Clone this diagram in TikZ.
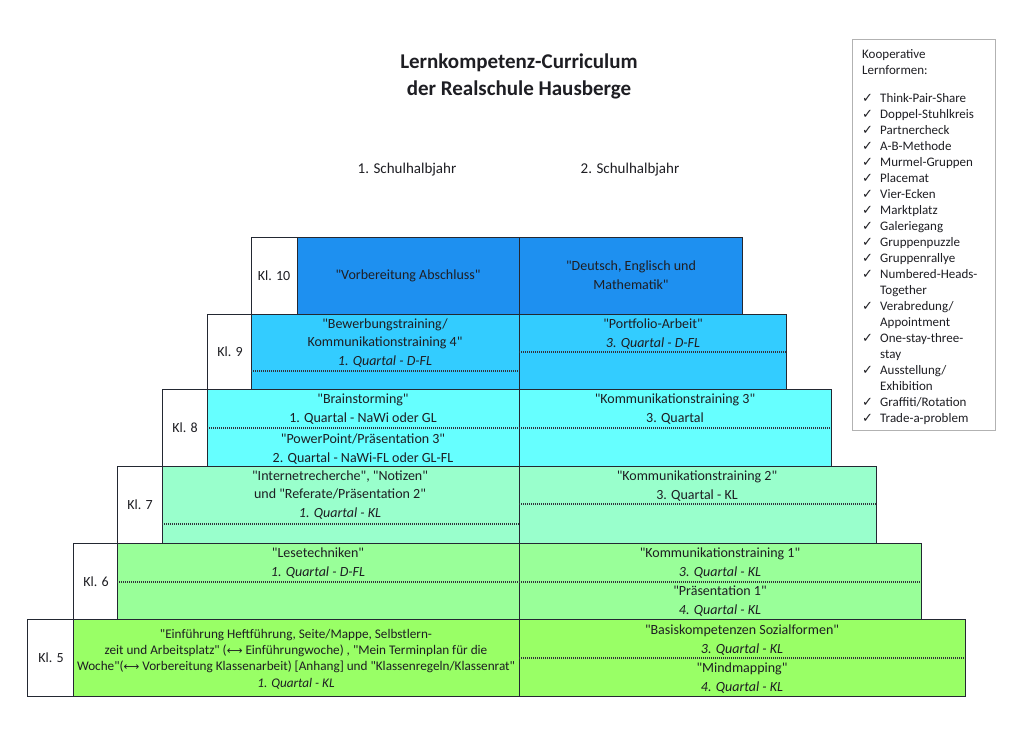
\documentclass[tikz,border=0pt]{standalone}
\usepackage{fontspec}
\setmainfont{Carlito}[Ligatures=TeXOff]
\newfontfamily\symfont{DejaVu Sans}
\newfontfamily\ckfont{DejaVu Sans Bold}
\definecolor{cten}{RGB}{30,144,240}
\definecolor{cnine}{RGB}{51,204,255}
\definecolor{ceight}{RGB}{102,255,255}
\definecolor{cseven}{RGB}{153,255,204}
\definecolor{csix}{RGB}{153,255,153}
\definecolor{cfive}{RGB}{153,255,102}
\definecolor{bordc}{RGB}{35,40,50}
\definecolor{textc}{RGB}{30,30,35}
\definecolor{dotc}{RGB}{50,50,60}
\tikzset{
  cell/.style={draw=bordc, line width=0.9pt, rectangle, inner sep=0pt, outer sep=0pt, anchor=north west},
  labbox/.style={cell, fill=white},
  txt/.style={font=\fontsize{14}{18.5}\selectfont, text=textc, align=center, inner sep=0pt},
  smalltxt/.style={font=\fontsize{13.2}{16.3}\selectfont, text=textc, align=center, inner sep=0pt},
  hdr/.style={font=\fontsize{15}{18}\selectfont, text=textc, inner sep=0pt},
  sepline/.style={draw=dotc, line width=1.1pt, dash pattern=on 1pt off 1pt},
  legtxt/.style={font=\fontsize{13}{16}\selectfont, text=textc, align=left, inner sep=0pt},
}
\newcommand{\ck}{\makebox[18pt][l]{\ckfont\fontsize{13}{16}\selectfont ✓}}
\newcommand{\ckind}{\hspace*{18pt}}
\begin{document}
\begin{tikzpicture}[x=1pt,y=-1pt]
\useasboundingbox (0,0) rectangle (1024,733);
\fill[white] (0,0) rectangle (1024,733);

% title and headers
\node[font=\fontsize{21}{27}\selectfont\bfseries, text=textc, align=center, inner sep=0pt] (title) at (519,76) {Lernkompetenz-Curriculum\\der Realschule Hausberge};
\node[hdr] (h1) at (407,170) {1. Schulhalbjahr};
\node[hdr] (h2) at (630,170) {2. Schulhalbjahr};

% Kl. 10
\node[labbox, minimum width=46, minimum height=77] (lab10) at (251,237) {};
\node[cell, fill=cten, minimum width=222, minimum height=77] (l10) at (297,237) {};
\node[cell, fill=cten, minimum width=223, minimum height=77] (r10) at (519,237) {};
% Kl. 9
\node[labbox, minimum width=44, minimum height=75] (lab9) at (207,314) {};
\node[cell, fill=cnine, minimum width=268, minimum height=75] (l9) at (251,314) {};
\node[cell, fill=cnine, minimum width=267, minimum height=75] (r9) at (519,314) {};
% Kl. 8
\node[labbox, minimum width=45, minimum height=77] (lab8) at (162,389) {};
\node[cell, fill=ceight, minimum width=312, minimum height=77] (l8) at (207,389) {};
\node[cell, fill=ceight, minimum width=312, minimum height=77] (r8) at (519,389) {};
% Kl. 7
\node[labbox, minimum width=45, minimum height=77] (lab7) at (117,466) {};
\node[cell, fill=cseven, minimum width=357, minimum height=77] (l7) at (162,466) {};
\node[cell, fill=cseven, minimum width=357, minimum height=77] (r7) at (519,466) {};
% Kl. 6
\node[labbox, minimum width=44, minimum height=76] (lab6) at (73,543) {};
\node[cell, fill=csix, minimum width=402, minimum height=76] (l6) at (117,543) {};
\node[cell, fill=csix, minimum width=402, minimum height=76] (r6) at (519,543) {};
% Kl. 5
\node[labbox, minimum width=46, minimum height=77] (lab5) at (27,619) {};
\node[cell, fill=cfive, minimum width=446, minimum height=77] (l5) at (73,619) {};
\node[cell, fill=cfive, minimum width=446, minimum height=77] (r5) at (519,619) {};

% dotted separators
\draw[sepline] (l9.west |- 0,371) -- (l9.east |- 0,371);
\draw[sepline] (r9.west |- 0,352) -- (r9.east |- 0,352);
\draw[sepline] (l8.west |- 0,428) -- (r8.east |- 0,428);
\draw[sepline] (l7.west |- 0,524) -- (l7.east |- 0,524);
\draw[sepline] (r7.west |- 0,504) -- (r7.east |- 0,504);
\draw[sepline] (l6.west |- 0,582) -- (r6.east |- 0,582);
\draw[sepline] (r5.west |- 0,658) -- (r5.east |- 0,658);

% labels
\node[txt] (t10) at (274,276) {Kl. 10};
\node[txt] (t9) at (230,352) {Kl. 9};
\node[txt] (t8) at (185,428) {Kl. 8};
\node[txt] (t7) at (140,505) {Kl. 7};
\node[txt] (t6) at (96,582) {Kl. 6};
\node[txt] (t5) at (51,658) {Kl. 5};

% contents
\node[txt] (c10l) at (408,276) {"Vorbereitung Abschluss"};
\node[txt] (c10r) at (631,275) {"Deutsch, Englisch und\\Mathematik"};

\node[txt] (c9l) at (385,343) {"Bewerbungstraining/\\Kommunikationstraining 4"\\\textit{1. Quartal - D-FL}};
\node[txt] (c9r) at (653,334) {"Portfolio-Arbeit"\\\textit{3. Quartal - D-FL}};

\node[txt] (c8l) at (363,409) {"Brainstorming"\\1. Quartal - NaWi oder GL};
\node[txt] (c8lb) at (363,449) {"PowerPoint/Präsentation 3"\\2. Quartal - NaWi-FL oder GL-FL};
\node[txt] (c8r) at (675,409) {"Kommunikationstraining 3"\\3. Quartal};

\node[txt] (c7l) at (340,495) {"Internetrecherche", "Notizen"\\und "Referate/Präsentation 2"\\\textit{1. Quartal - KL}};
\node[txt] (c7r) at (697,486) {"Kommunikationstraining 2"\\3. Quartal - KL};

\node[txt] (c6l) at (318,563) {"Lesetechniken"\\\textit{1. Quartal - D-FL}};
\node[txt] (c6r) at (720,563) {"Kommunikationstraining 1"\\\textit{3. Quartal - KL}};
\node[txt] (c6rb) at (720,601) {"Präsentation 1"\\\textit{4. Quartal - KL}};

\node[smalltxt] (c5l) at (296,659) {"Einführung Heftführung, Seite/Mappe, Selbstlern-\\zeit und Arbeitsplatz" ({\symfont\fontsize{11}{16}\selectfont ⟷} Einführungwoche) , "Mein Terminplan für die\\Woche"({\symfont\fontsize{11}{16}\selectfont ⟷} Vorbereitung Klassenarbeit) [Anhang] und "Klassenregeln/Klassenrat"\\\textit{1. Quartal - KL}};
\node[txt] (c5r) at (742,640) {"Basiskompetenzen Sozialformen"\\\textit{3. Quartal - KL}};
\node[txt] (c5rb) at (742,678) {"Mindmapping"\\\textit{4. Quartal - KL}};

% legend
\node[draw=black!30, line width=0.9pt, anchor=north west, minimum width=143, minimum height=391, inner sep=0pt] (legbox) at (852,39) {};
\node[legtxt, anchor=north west] (leg) at (862,49) {Kooperative\\Lernformen:\\[12pt]
\ck Think-Pair-Share\\
\ck Doppel-Stuhlkreis\\
\ck Partnercheck\\
\ck A-B-Methode\\
\ck Murmel-Gruppen\\
\ck Placemat\\
\ck Vier-Ecken\\
\ck Marktplatz\\
\ck Galeriegang\\
\ck Gruppenpuzzle\\
\ck Gruppenrallye\\
\ck Numbered-Heads-\\
\ckind Together\\
\ck Verabredung/\\
\ckind Appointment\\
\ck One-stay-three-\\
\ckind stay\\
\ck Ausstellung/\\
\ckind Exhibition\\
\ck Graffiti/Rotation\\
\ck Trade-a-problem};
\end{tikzpicture}
\end{document}
